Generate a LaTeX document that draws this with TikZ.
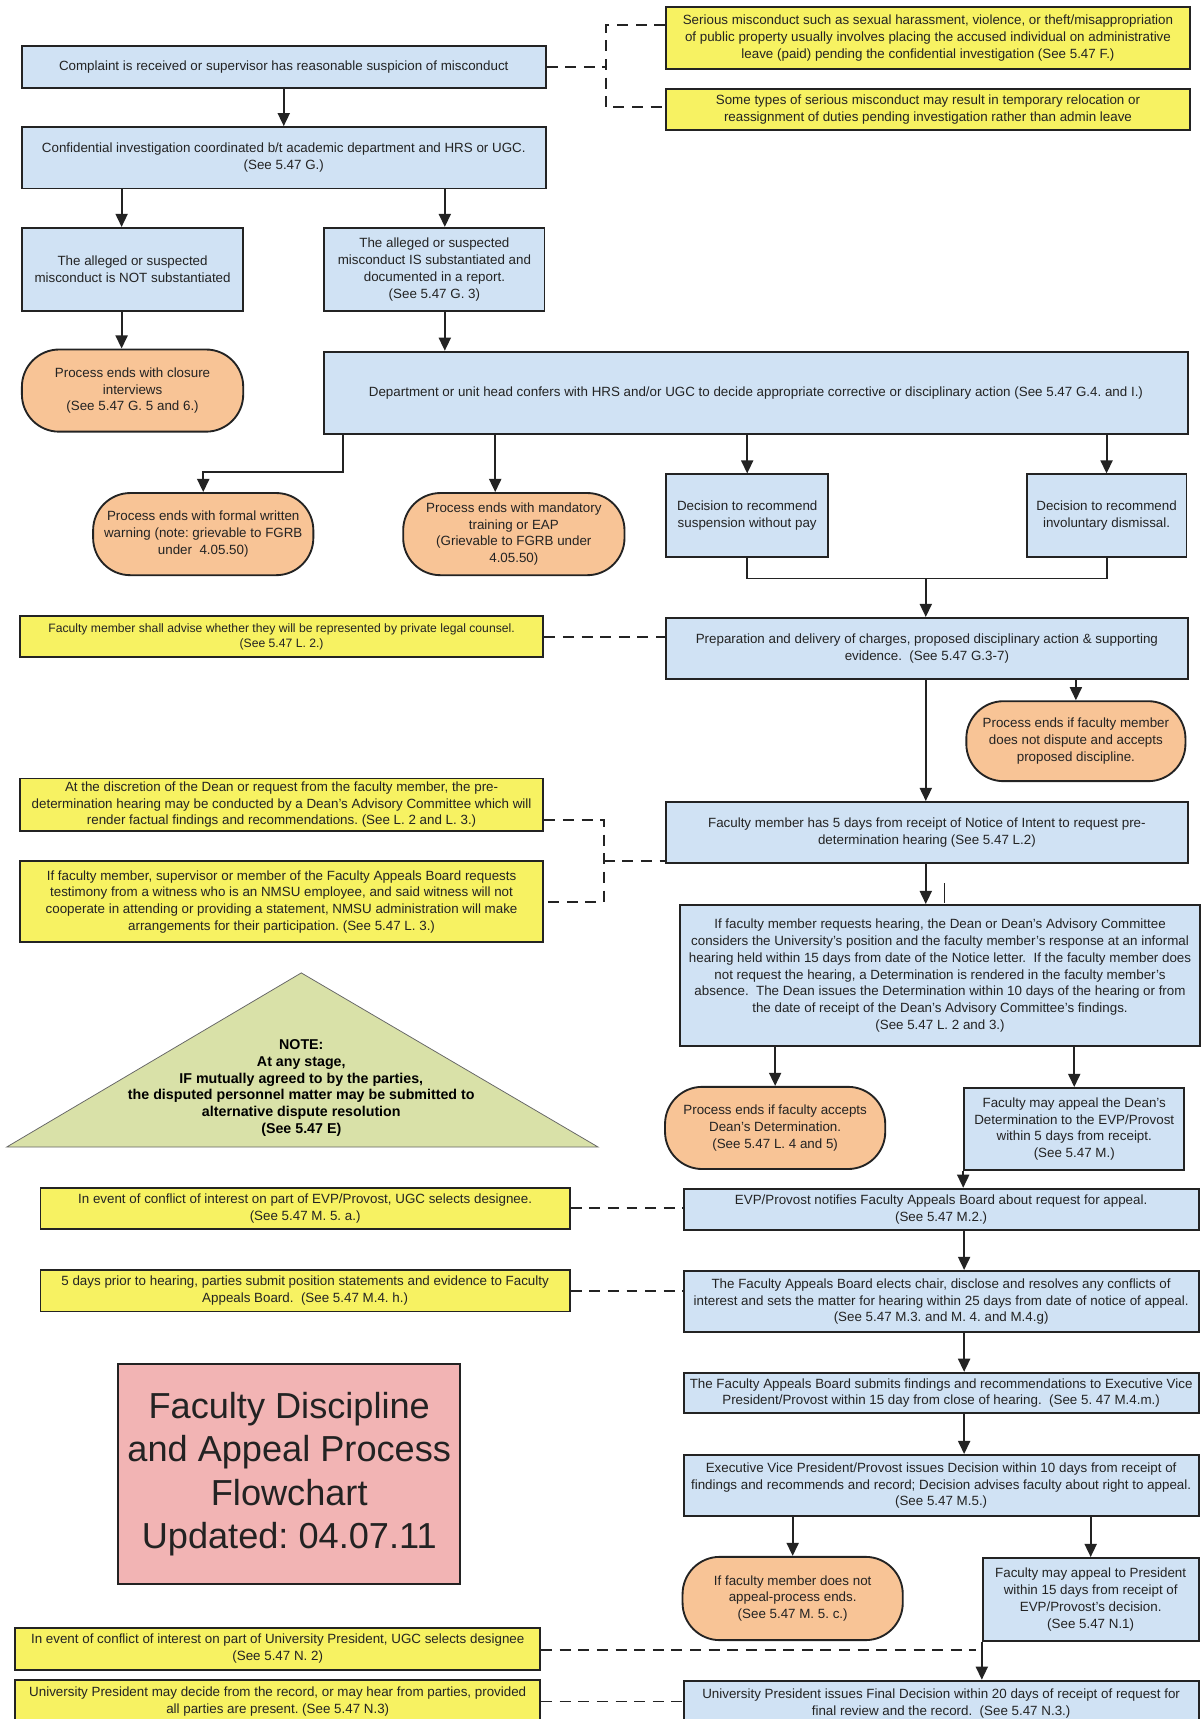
\documentclass[tikz,border=0pt]{standalone}
\usepackage{fontspec}
\setmainfont{Liberation Sans}
\usetikzlibrary{arrows.meta}
\definecolor{cBlue}{RGB}{208,226,244}
\definecolor{cYel}{RGB}{247,242,98}
\definecolor{cOrg}{RGB}{248,196,150}
\definecolor{cPink}{RGB}{242,180,180}
\definecolor{cTri}{RGB}{217,225,168}
\definecolor{cInk}{RGB}{35,35,35}
\frenchspacing
\begin{document}
\begin{tikzpicture}[x=1pt,y=-1pt,
  fbase/.style={draw=cInk, line width=1.7pt, align=center, inner sep=0pt, text=cInk, font=\fontsize{12.2}{15.3}\selectfont},
  fblue/.style={fbase, fill=cBlue},
  fnote/.style={fbase, fill=cYel},
  fterm/.style={fbase, fill=cOrg, rounded corners=34pt},
  arr/.style={draw=cInk, line width=1.7pt, -{Triangle[length=12pt,width=11pt]}},
  link/.style={draw=cInk, line width=1.7pt},
  dashlink/.style={draw=cInk, line width=1.8pt, dash pattern=on 10pt off 7pt},
]
\clip (0,0) rectangle (1097,1569);
\fill[white] (0,0) rectangle (1097,1569);

% ---------- top ----------
\node[fblue, minimum width=478pt, minimum height=38pt] (complaint) at (259,61)
  {Complaint is received or supervisor has reasonable suspicion of misconduct};
\node[fnote, minimum width=478pt, minimum height=57pt] (yA) at (847,34.5)
  {Serious misconduct such as sexual harassment, violence, or theft/misappropriation\\
   of public property usually involves placing the accused individual on administrative\\
   leave (paid) pending the confidential investigation (See 5.47 F.)};
\node[fnote, minimum width=478pt, minimum height=38pt] (yB) at (847,100)
  {Some types of serious misconduct may result in temporary relocation or\\
   reassignment of duties pending investigation rather than admin leave};
\node[fblue, minimum width=478pt, minimum height=56pt] (conf) at (259,144)
  {Confidential investigation coordinated b/t academic department and HRS or UGC.\\
   (See 5.47 G.)};
\node[fblue, minimum width=202pt, minimum height=76pt] (notsub) at (121,246)
  {The alleged or suspected\\ misconduct is NOT substantiated};
\node[fblue, minimum width=201pt, minimum height=76pt] (issub) at (396.5,246)
  {The alleged or suspected\\ misconduct IS substantiated and\\ documented in a report.\\ (See 5.47 G. 3)};
\node[fterm, minimum width=202pt, minimum height=75pt] (closure) at (121,356.5)
  {Process ends with closure\\ interviews\\ (See 5.47 G. 5 and 6.)};
\node[fblue, minimum width=788pt, minimum height=75pt] (dept) at (690,358.5)
  {Department or unit head confers with HRS and/or UGC to decide appropriate corrective or disciplinary action (See 5.47 G.4. and I.)};
\node[fterm, minimum width=201pt, minimum height=75pt] (warning) at (185.5,487.5)
  {Process ends with formal written\\ warning (note: grievable to FGRB\\ under\ \ 4.05.50)};
\node[fterm, minimum width=202pt, minimum height=75pt] (training) at (469,487.5)
  {Process ends with mandatory\\ training or EAP\\ (Grievable to FGRB under\\ 4.05.50)};
\node[fblue, minimum width=148pt, minimum height=75pt] (susp) at (682,470.5)
  {Decision to recommend\\ suspension without pay};
\node[fblue, minimum width=146pt, minimum height=75pt] (dism) at (1010,470.5)
  {Decision to recommend\\ involuntary dismissal.};

% ---------- middle ----------
\node[fblue, minimum width=476pt, minimum height=56pt] (prep) at (846,592)
  {Preparation and delivery of charges, proposed disciplinary action \& supporting\\
   evidence.\ \ (See 5.47 G.3-7)};
\node[fnote, minimum width=478pt, minimum height=38pt, font=\fontsize{11.1}{13.8}\selectfont] (yAdvise) at (257,581)
  {Faculty member shall advise whether they will be represented by private legal counsel.\\
   (See 5.47 L. 2.)};
\node[fterm, minimum width=200pt, minimum height=73pt] (termDispute) at (982,676.5)
  {Process ends if faculty member\\ does not dispute and accepts\\ proposed discipline.};
\node[fblue, minimum width=476pt, minimum height=56pt] (days5) at (846,760)
  {Faculty member has 5 days from receipt of Notice of Intent to request pre-\\
   determination hearing (See 5.47 L.2)};
\node[fnote, minimum width=478pt, minimum height=48pt] (yDisc) at (257,734.5)
  {At the discretion of the Dean or request from the faculty member, the pre-\\
   determination hearing may be conducted by a Dean's Advisory Committee which will\\
   render factual findings and recommendations. (See L. 2 and L. 3.)};
\node[fnote, minimum width=478pt, minimum height=74pt] (yWitness) at (257,823)
  {If faculty member, supervisor or member of the Faculty Appeals Board requests\\
   testimony from a witness who is an NMSU employee, and said witness will not\\
   cooperate in attending or providing a statement, NMSU administration will make\\
   arrangements for their participation. (See 5.47 L. 3.)};
\node[fblue, minimum width=474pt, minimum height=129pt] (hearing) at (858,890.5)
  {If faculty member requests hearing, the Dean or Dean's Advisory Committee\\
   considers the University's position and the faculty member's response at an informal\\
   hearing held within 15 days from date of the Notice letter.\ \ If the faculty member does\\
   not request the hearing, a Determination is rendered in the faculty member's\\
   absence.\ \ The Dean issues the Determination within 10 days of the hearing or from\\
   the date of receipt of the Dean's Advisory Committee's findings.\\
   (See 5.47 L. 2 and 3.)};
\node[fterm, minimum width=201pt, minimum height=75pt] (termAccept) at (707.5,1029.5)
  {Process ends if faculty accepts\\ Dean's Determination.\\ (See 5.47 L. 4 and 5)};
\node[fblue, minimum width=201pt, minimum height=75pt] (appealDean) at (980.5,1030.5)
  {Faculty may appeal the Dean's\\ Determination to the EVP/Provost\\ within 5 days from receipt.\\ (See 5.47 M.)};

% triangle note
\filldraw[fill=cTri, draw=gray!80!black, line width=0.7pt] (275,888) -- (546,1047) -- (6,1047) -- cycle;
\node[align=center, inner sep=0pt, text=black, font=\fontsize{13}{15.2}\bfseries] (tri) at (275,993)
  {NOTE:\\ At any stage,\\ IF mutually agreed to by the parties,\\ the disputed personnel matter may be submitted to\\ alternative dispute resolution\\ (See 5.47 E)};

% ---------- lower ----------
\node[fblue, minimum width=470pt, minimum height=38pt] (evpNotify) at (859,1104)
  {EVP/Provost notifies Faculty Appeals Board about request for appeal.\\ (See 5.47 M.2.)};
\node[fnote, minimum width=483pt, minimum height=38pt] (yEVP) at (278.5,1103)
  {In event of conflict of interest on part of EVP/Provost, UGC selects designee.\\ (See 5.47 M. 5. a.)};
\node[fblue, minimum width=470pt, minimum height=56pt] (fabElect) at (859,1188)
  {The Faculty Appeals Board elects chair, disclose and resolves any conflicts of\\
   interest and sets the matter for hearing within 25 days from date of notice of appeal.\\
   (See 5.47 M.3. and M. 4. and M.4.g)};
\node[fnote, minimum width=483pt, minimum height=38pt] (y5days) at (278.5,1178)
  {5 days prior to hearing, parties submit position statements and evidence to Faculty\\
   Appeals Board.\ \ (See 5.47 M.4. h.)};
\node[fblue, minimum width=470pt, minimum height=37pt] (fabSubmit) at (859,1271.5)
  {The Faculty Appeals Board submits findings and recommendations to Executive Vice\\
   President/Provost within 15 day from close of hearing.\ \ (See 5. 47 M.4.m.)};
\node[fblue, minimum width=470pt, minimum height=56pt] (evpDecision) at (859,1356)
  {Executive Vice President/Provost issues Decision within 10 days from receipt of\\
   findings and recommends and record; Decision advises faculty about right to appeal.\\
   (See 5.47 M.5.)};
\node[fbase, fill=cPink, minimum width=312pt, minimum height=201pt, font=\fontsize{33}{39.5}\selectfont] (title) at (264,1345.5)
  {Faculty Discipline\\ and Appeal Process\\ Flowchart\\ Updated: 04.07.11};
\node[fterm, minimum width=201pt, minimum height=76pt] (termNoAppeal) at (723.5,1459)
  {If faculty member does not\\ appeal-process ends.\\ (See 5.47 M. 5. c.)};
\node[fblue, minimum width=197pt, minimum height=76pt] (appealPres) at (995.5,1460)
  {Faculty may appeal to President\\ within 15 days from receipt of\\ EVP/Provost's decision.\\ (See 5.47 N.1)};
\node[fnote, minimum width=479pt, minimum height=38pt] (yUPconf) at (253.5,1505)
  {In event of conflict of interest on part of University President, UGC selects designee\\ (See 5.47 N. 2)};
\node[fnote, minimum width=479pt, minimum height=40pt] (yUPdecide) at (253.5,1553)
  {University President may decide from the record, or may hear from parties, provided\\ all parties are present. (See 5.47 N.3)};
\node[fblue, minimum width=470pt, minimum height=42pt] (final) at (859,1555)
  {University President issues Final Decision within 20 days of receipt of request for\\
   final review and the record.\ \ (See 5.47 N.3.)};

% ---------- helper coordinates ----------
\coordinate (xa) at (111,0);
\coordinate (xb) at (406,0);
\coordinate (e1) at (313,431);
\coordinate (xt) at (452,0);
\coordinate (j) at (845,528);
\coordinate (dA) at (553,23);
\coordinate (dB) at (553,98);
\coordinate (dC) at (553,61);
\coordinate (b1) at (551,748);
\coordinate (b2) at (551,786);
\coordinate (x880) at (880,0);
\coordinate (d1) at (891,1506);

% ---------- connectors ----------
\draw[arr] (complaint.south) -- (conf.north);
\draw[arr] (conf.south -| xa) -- (notsub.north -| xa);
\draw[arr] (conf.south -| xb) -- (issub.north -| xb);
\draw[arr] (notsub.south -| xa) -- (closure.north -| xa);
\draw[arr] (issub.south -| xb) -- (dept.north -| xb);
\draw[arr] (dept.south -| e1) -- (e1) -| (warning.north);
\draw[arr] (dept.south -| xt) -- (training.north -| xt);
\draw[arr] (dept.south -| susp.north) -- (susp.north);
\draw[arr] (dept.south -| dism.north) -- (dism.north);
\draw[link] (susp.south) |- (j) -| (dism.south);
\draw[arr] (j) -- (prep.north -| j);
\draw[arr] (prep.south -| termDispute.north) -- (termDispute.north);
\draw[arr] (prep.south -| j) -- (days5.north -| j);
\draw[arr] (days5.south -| j) -- (hearing.north -| j);
\draw[cInk, line width=0.6pt] (862,806) -- (862,824);
\draw[arr] (hearing.south -| termAccept.north) -- (termAccept.north);
\draw[arr] (hearing.south -| appealDean.north) -- (appealDean.north);
\draw[arr] (appealDean.south west) -- (evpNotify.north -| appealDean.south west);
\draw[arr] (evpNotify.south -| x880) -- (fabElect.north -| x880);
\draw[arr] (fabElect.south -| x880) -- (fabSubmit.north -| x880);
\draw[arr] (fabSubmit.south -| x880) -- (evpDecision.north -| x880);
\draw[arr] (evpDecision.south -| termNoAppeal.north) -- (termNoAppeal.north);
\draw[arr] (evpDecision.south -| appealPres.north) -- (appealPres.north);
\draw[arr] (appealPres.south west) -- (final.north -| appealPres.south west);

% dashed side links
\draw[dashlink] (complaint.east) -- (dC);
\draw[dashlink] (yA.west |- dA) -- (dA) -- (dB) -- (yB.west |- dB);
\draw[dashlink] (yAdvise.east) -- (prep.west |- yAdvise.east);
\draw[dashlink] (yDisc.east |- b1) -- (b1) -- (b1 |- yWitness.east) -- (yWitness.east);
\draw[dashlink] (b2) -- (days5.west |- b2);
\draw[dashlink] (yEVP.east) -- (evpNotify.west |- yEVP.east);
\draw[dashlink] (y5days.east) -- (fabElect.west |- y5days.east);
\draw[dashlink] (yUPconf.east |- d1) -- (d1);
\draw[dashlink] (yUPdecide.east) -- (final.west |- yUPdecide.east);
\end{tikzpicture}
\end{document}
